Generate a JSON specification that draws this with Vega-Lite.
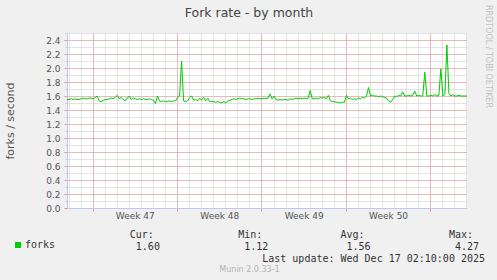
{
  "$schema": "https://vega.github.io/schema/vega-lite/v6.json",
  "width": 400,
  "height": 175,
  "autosize": {"type": "none"},
  "padding": {"left": 67, "top": 33, "right": 30, "bottom": 72},
  "background": "#f0f0f0",
  "title": {"text": "Fork rate - by month", "font": "DejaVu Sans", "fontSize": 12.5, "fontWeight": "normal", "color": "#444444", "anchor": "middle", "frame": "group", "dx": -18, "offset": -25.4, "baseline": "alphabetic"},
  "data": {"values": [
    {"t":"2025-11-14T21:00Z","v":1.55},
    {"t":"2025-11-15T01:00Z","v":1.55},{"t":"2025-11-15T05:00Z","v":1.56},{"t":"2025-11-15T09:00Z","v":1.55},{"t":"2025-11-15T13:00Z","v":1.56},{"t":"2025-11-15T17:00Z","v":1.55},{"t":"2025-11-15T21:00Z","v":1.55},
    {"t":"2025-11-16T01:00Z","v":1.56},{"t":"2025-11-16T05:00Z","v":1.57},{"t":"2025-11-16T09:00Z","v":1.56},{"t":"2025-11-16T13:00Z","v":1.56},{"t":"2025-11-16T17:00Z","v":1.57},{"t":"2025-11-16T21:00Z","v":1.57},
    {"t":"2025-11-17T01:00Z","v":1.56},{"t":"2025-11-17T05:00Z","v":1.58},{"t":"2025-11-17T09:00Z","v":1.60},{"t":"2025-11-17T13:00Z","v":1.53},{"t":"2025-11-17T17:00Z","v":1.52},{"t":"2025-11-17T21:00Z","v":1.54},
    {"t":"2025-11-18T01:00Z","v":1.55},{"t":"2025-11-18T05:00Z","v":1.55},{"t":"2025-11-18T09:00Z","v":1.56},{"t":"2025-11-18T13:00Z","v":1.57},{"t":"2025-11-18T17:00Z","v":1.56},{"t":"2025-11-18T21:00Z","v":1.58},
    {"t":"2025-11-19T01:00Z","v":1.61},{"t":"2025-11-19T05:00Z","v":1.56},{"t":"2025-11-19T09:00Z","v":1.58},{"t":"2025-11-19T13:00Z","v":1.55},{"t":"2025-11-19T17:00Z","v":1.53},{"t":"2025-11-19T21:00Z","v":1.57},
    {"t":"2025-11-20T01:00Z","v":1.60},{"t":"2025-11-20T05:00Z","v":1.55},{"t":"2025-11-20T09:00Z","v":1.57},{"t":"2025-11-20T13:00Z","v":1.56},{"t":"2025-11-20T17:00Z","v":1.55},{"t":"2025-11-20T21:00Z","v":1.56},
    {"t":"2025-11-21T01:00Z","v":1.55},{"t":"2025-11-21T05:00Z","v":1.56},{"t":"2025-11-21T09:00Z","v":1.55},{"t":"2025-11-21T13:00Z","v":1.55},{"t":"2025-11-21T17:00Z","v":1.56},{"t":"2025-11-21T21:00Z","v":1.55},
    {"t":"2025-11-22T01:00Z","v":1.54},{"t":"2025-11-22T05:00Z","v":1.49},{"t":"2025-11-22T09:00Z","v":1.60},{"t":"2025-11-22T13:00Z","v":1.53},{"t":"2025-11-22T17:00Z","v":1.52},{"t":"2025-11-22T21:00Z","v":1.53},
    {"t":"2025-11-23T01:00Z","v":1.52},{"t":"2025-11-23T05:00Z","v":1.52},{"t":"2025-11-23T09:00Z","v":1.53},{"t":"2025-11-23T13:00Z","v":1.52},{"t":"2025-11-23T17:00Z","v":1.53},{"t":"2025-11-23T21:00Z","v":1.53},
    {"t":"2025-11-24T01:00Z","v":1.58},{"t":"2025-11-24T05:00Z","v":1.60},{"t":"2025-11-24T09:00Z","v":2.10},{"t":"2025-11-24T13:00Z","v":1.53},{"t":"2025-11-24T17:00Z","v":1.52},{"t":"2025-11-24T21:00Z","v":1.53},
    {"t":"2025-11-25T01:00Z","v":1.58},{"t":"2025-11-25T05:00Z","v":1.60},{"t":"2025-11-25T09:00Z","v":1.54},{"t":"2025-11-25T13:00Z","v":1.55},{"t":"2025-11-25T17:00Z","v":1.53},{"t":"2025-11-25T21:00Z","v":1.57},
    {"t":"2025-11-26T01:00Z","v":1.54},{"t":"2025-11-26T05:00Z","v":1.58},{"t":"2025-11-26T09:00Z","v":1.53},{"t":"2025-11-26T13:00Z","v":1.57},{"t":"2025-11-26T17:00Z","v":1.52},{"t":"2025-11-26T21:00Z","v":1.52},
    {"t":"2025-11-27T01:00Z","v":1.52},{"t":"2025-11-27T05:00Z","v":1.51},{"t":"2025-11-27T09:00Z","v":1.52},{"t":"2025-11-27T13:00Z","v":1.51},{"t":"2025-11-27T17:00Z","v":1.50},{"t":"2025-11-27T21:00Z","v":1.52},
    {"t":"2025-11-28T01:00Z","v":1.50},{"t":"2025-11-28T05:00Z","v":1.53},{"t":"2025-11-28T09:00Z","v":1.54},{"t":"2025-11-28T13:00Z","v":1.55},{"t":"2025-11-28T17:00Z","v":1.56},{"t":"2025-11-28T21:00Z","v":1.55},
    {"t":"2025-11-29T01:00Z","v":1.56},{"t":"2025-11-29T05:00Z","v":1.57},{"t":"2025-11-29T09:00Z","v":1.56},{"t":"2025-11-29T13:00Z","v":1.56},{"t":"2025-11-29T17:00Z","v":1.55},{"t":"2025-11-29T21:00Z","v":1.56},
    {"t":"2025-11-30T01:00Z","v":1.56},{"t":"2025-11-30T05:00Z","v":1.55},{"t":"2025-11-30T09:00Z","v":1.56},{"t":"2025-11-30T13:00Z","v":1.56},{"t":"2025-11-30T17:00Z","v":1.57},{"t":"2025-11-30T21:00Z","v":1.56},
    {"t":"2025-12-01T01:00Z","v":1.56},{"t":"2025-12-01T05:00Z","v":1.57},{"t":"2025-12-01T09:00Z","v":1.56},{"t":"2025-12-01T13:00Z","v":1.57},{"t":"2025-12-01T17:00Z","v":1.63},{"t":"2025-12-01T21:00Z","v":1.56},
    {"t":"2025-12-02T01:00Z","v":1.60},{"t":"2025-12-02T05:00Z","v":1.55},{"t":"2025-12-02T09:00Z","v":1.54},{"t":"2025-12-02T13:00Z","v":1.55},{"t":"2025-12-02T17:00Z","v":1.54},{"t":"2025-12-02T21:00Z","v":1.55},
    {"t":"2025-12-03T01:00Z","v":1.55},{"t":"2025-12-03T05:00Z","v":1.54},{"t":"2025-12-03T09:00Z","v":1.56},{"t":"2025-12-03T13:00Z","v":1.55},{"t":"2025-12-03T17:00Z","v":1.56},{"t":"2025-12-03T21:00Z","v":1.57},
    {"t":"2025-12-04T01:00Z","v":1.56},{"t":"2025-12-04T05:00Z","v":1.57},{"t":"2025-12-04T09:00Z","v":1.56},{"t":"2025-12-04T13:00Z","v":1.57},{"t":"2025-12-04T17:00Z","v":1.56},{"t":"2025-12-04T21:00Z","v":1.57},
    {"t":"2025-12-05T01:00Z","v":1.68},{"t":"2025-12-05T05:00Z","v":1.56},{"t":"2025-12-05T09:00Z","v":1.56},{"t":"2025-12-05T13:00Z","v":1.57},{"t":"2025-12-05T17:00Z","v":1.56},{"t":"2025-12-05T21:00Z","v":1.58},
    {"t":"2025-12-06T01:00Z","v":1.57},{"t":"2025-12-06T05:00Z","v":1.58},{"t":"2025-12-06T09:00Z","v":1.56},{"t":"2025-12-06T13:00Z","v":1.61},{"t":"2025-12-06T17:00Z","v":1.53},{"t":"2025-12-06T21:00Z","v":1.52},
    {"t":"2025-12-07T01:00Z","v":1.52},{"t":"2025-12-07T05:00Z","v":1.51},{"t":"2025-12-07T09:00Z","v":1.51},{"t":"2025-12-07T13:00Z","v":1.50},{"t":"2025-12-07T17:00Z","v":1.51},{"t":"2025-12-07T21:00Z","v":1.51},
    {"t":"2025-12-08T01:00Z","v":1.61},{"t":"2025-12-08T05:00Z","v":1.56},{"t":"2025-12-08T09:00Z","v":1.57},{"t":"2025-12-08T13:00Z","v":1.55},{"t":"2025-12-08T17:00Z","v":1.56},{"t":"2025-12-08T21:00Z","v":1.55},
    {"t":"2025-12-09T01:00Z","v":1.57},{"t":"2025-12-09T05:00Z","v":1.56},{"t":"2025-12-09T09:00Z","v":1.58},{"t":"2025-12-09T13:00Z","v":1.57},{"t":"2025-12-09T17:00Z","v":1.60},{"t":"2025-12-09T21:00Z","v":1.72},
    {"t":"2025-12-10T01:00Z","v":1.60},{"t":"2025-12-10T05:00Z","v":1.61},{"t":"2025-12-10T09:00Z","v":1.60},{"t":"2025-12-10T13:00Z","v":1.60},{"t":"2025-12-10T17:00Z","v":1.59},{"t":"2025-12-10T21:00Z","v":1.60},
    {"t":"2025-12-11T01:00Z","v":1.59},{"t":"2025-12-11T05:00Z","v":1.58},{"t":"2025-12-11T09:00Z","v":1.57},{"t":"2025-12-11T13:00Z","v":1.53},{"t":"2025-12-11T17:00Z","v":1.51},{"t":"2025-12-11T21:00Z","v":1.55},
    {"t":"2025-12-12T01:00Z","v":1.60},{"t":"2025-12-12T05:00Z","v":1.59},{"t":"2025-12-12T09:00Z","v":1.61},{"t":"2025-12-12T13:00Z","v":1.60},{"t":"2025-12-12T17:00Z","v":1.66},{"t":"2025-12-12T21:00Z","v":1.60},
    {"t":"2025-12-13T01:00Z","v":1.60},{"t":"2025-12-13T05:00Z","v":1.61},{"t":"2025-12-13T09:00Z","v":1.60},{"t":"2025-12-13T13:00Z","v":1.61},{"t":"2025-12-13T17:00Z","v":1.67},{"t":"2025-12-13T21:00Z","v":1.60},
    {"t":"2025-12-14T01:00Z","v":1.61},{"t":"2025-12-14T05:00Z","v":1.60},{"t":"2025-12-14T09:00Z","v":1.60},{"t":"2025-12-14T13:00Z","v":1.94},{"t":"2025-12-14T17:00Z","v":1.60},{"t":"2025-12-14T21:00Z","v":1.60},
    {"t":"2025-12-15T01:00Z","v":1.61},{"t":"2025-12-15T05:00Z","v":1.60},{"t":"2025-12-15T09:00Z","v":1.62},{"t":"2025-12-15T13:00Z","v":1.60},{"t":"2025-12-15T17:00Z","v":1.61},{"t":"2025-12-15T21:00Z","v":1.99},
    {"t":"2025-12-16T01:00Z","v":1.60},{"t":"2025-12-16T05:00Z","v":1.62},{"t":"2025-12-16T09:00Z","v":2.33},{"t":"2025-12-16T13:00Z","v":1.64},{"t":"2025-12-16T17:00Z","v":1.60},{"t":"2025-12-16T21:00Z","v":1.62},
    {"t":"2025-12-17T01:00Z","v":1.60},{"t":"2025-12-17T05:00Z","v":1.60},{"t":"2025-12-17T09:00Z","v":1.61},{"t":"2025-12-17T13:00Z","v":1.60},{"t":"2025-12-17T17:00Z","v":1.60},{"t":"2025-12-17T21:00Z","v":1.60},
    {"t":"2025-12-18T01:00Z","v":1.60}
  ]},
  "resolve": {"axis": {"x": "independent", "y": "independent"}},
  "layer": [
    {
      "mark": {"type": "line", "strokeOpacity": 0},
      "encoding": {
        "x": {"field": "t", "type": "temporal",
          "scale": {"type": "utc", "domain": [{"year": 2025, "month": 11, "date": 14, "hours": 21, "utc": true}, {"year": 2025, "month": 12, "date": 18, "hours": 1, "utc": true}]},
          "axis": {"orient": "bottom", "tickCount": {"interval": "day", "step": 1}, "grid": true, "gridColor": "#c8c8c8", "gridDash": [1, 1], "labels": false, "ticks": false, "domain": false, "title": null, "zindex": 0}},
        "y": {"field": "v", "type": "quantitative",
          "scale": {"domain": [0, 2.5], "nice": false, "zero": true},
          "axis": {"orient": "left", "values": [0,0.1,0.2,0.3,0.4,0.5,0.6,0.7,0.8,0.9,1,1.1,1.2,1.3,1.4,1.5,1.6,1.7,1.8,1.9,2,2.1,2.2,2.3,2.4,2.5], "grid": true, "gridColor": "#c8c8c8", "gridDash": [1, 1], "labels": false, "ticks": true, "tickSize": 2, "tickColor": "#c8c8c8", "domain": false, "title": null, "zindex": 0}}
      }
    },
    {
      "mark": {"type": "line", "strokeOpacity": 0},
      "encoding": {
        "x": {"field": "t", "type": "temporal",
          "scale": {"type": "utc", "domain": [{"year": 2025, "month": 11, "date": 14, "hours": 21, "utc": true}, {"year": 2025, "month": 12, "date": 18, "hours": 1, "utc": true}]},
          "axis": {"orient": "bottom", "values": [{"year": 2025, "month": 11, "date": 17, "utc": true}, {"year": 2025, "month": 11, "date": 24, "utc": true}, {"year": 2025, "month": 12, "date": 1, "utc": true}, {"year": 2025, "month": 12, "date": 8, "utc": true}, {"year": 2025, "month": 12, "date": 15, "utc": true}],
            "grid": true, "gridColor": "#ec9090", "gridDash": [1, 1], "labels": false, "ticks": true, "tickColor": "#ec9090", "tickSize": 3, "domain": false, "zindex": 0,
            "title": "Munin 2.0.33-1", "titleX": 182, "titleY": 61, "titleAlign": "center", "titleBaseline": "middle", "titleAngle": 0, "titleFont": "DejaVu Sans", "titleFontSize": 8, "titleFontWeight": "normal", "titleColor": "#b4b4b4"}},
        "y": {"field": "v", "type": "quantitative",
          "scale": {"domain": [0, 2.5], "nice": false, "zero": true},
          "axis": {"orient": "left", "values": [0,0.2,0.4,0.6,0.8,1,1.2,1.4,1.6,1.8,2,2.2,2.4], "format": ".1f", "grid": true, "gridColor": "#ec9090", "gridDash": [1, 1], "ticks": true, "tickColor": "#ec9090", "tickSize": 3, "labelPadding": 4, "labelFont": "DejaVu Sans", "labelFontSize": 9, "labelColor": "#555555", "domain": true, "domainColor": "#c4c4f0", "zindex": 0,
            "title": "forks / second", "titleX": -57, "titleY": 87.5, "titleAngle": 270, "titleAlign": "center", "titleBaseline": "middle", "titleFont": "DejaVu Sans", "titleFontSize": 11, "titleFontWeight": "normal", "titleColor": "#555555"}}
      }
    },
    {
      "mark": {"type": "line", "color": "#00cc00", "strokeWidth": 1},
      "encoding": {
        "x": {"field": "t", "type": "temporal",
          "scale": {"type": "utc", "domain": [{"year": 2025, "month": 11, "date": 14, "hours": 21, "utc": true}, {"year": 2025, "month": 12, "date": 18, "hours": 1, "utc": true}]},
          "axis": {"orient": "bottom", "values": [{"year": 2025, "month": 11, "date": 20, "hours": 12, "utc": true}, {"year": 2025, "month": 11, "date": 27, "hours": 12, "utc": true}, {"year": 2025, "month": 12, "date": 4, "hours": 12, "utc": true}, {"year": 2025, "month": 12, "date": 11, "hours": 12, "utc": true}],
            "labelExpr": "'Week ' + utcFormat(datum.value, '%V')", "labelFont": "DejaVu Sans", "labelFontSize": 9, "labelColor": "#555555", "labelPadding": 3, "labelFlush": false, "labelOverlap": false,
            "grid": false, "ticks": false, "domain": true, "domainColor": "#c4c4f0",
            "title": ["Cur:\u00a0\u00a0\u00a0\u00a0\u00a0\u00a0\u00a0\u00a0\u00a0\u00a0\u00a0\u00a0\u00a0\u00a0Min:\u00a0\u00a0\u00a0\u00a0\u00a0\u00a0\u00a0\u00a0\u00a0\u00a0\u00a0\u00a0\u00a0Avg:\u00a0\u00a0\u00a0\u00a0\u00a0\u00a0\u00a0\u00a0\u00a0\u00a0\u00a0\u00a0\u00a0\u00a0Max:",
                      "\u200b\u00a01.60\u00a0\u00a0\u00a0\u00a0\u00a0\u00a0\u00a0\u00a0\u00a0\u00a0\u00a0\u00a0\u00a0\u00a01.12\u00a0\u00a0\u00a0\u00a0\u00a0\u00a0\u00a0\u00a0\u00a0\u00a0\u00a0\u00a0\u00a01.56\u00a0\u00a0\u00a0\u00a0\u00a0\u00a0\u00a0\u00a0\u00a0\u00a0\u00a0\u00a0\u00a0\u00a04.27",
                      "\u200b\u00a0\u00a0\u00a0\u00a0\u00a0\u00a0\u00a0\u00a0\u00a0\u00a0\u00a0\u00a0\u00a0\u00a0\u00a0\u00a0\u00a0\u00a0\u00a0\u00a0\u00a0\u00a0Last update: Wed Dec 17 02:10:00 2025"],
            "titleX": 62.3, "titleY": 29, "titleAlign": "left", "titleBaseline": "alphabetic", "titleAngle": 0, "titleLineHeight": 12, "titleFont": "DejaVu Sans Mono", "titleFontSize": 10, "titleFontWeight": "normal", "titleColor": "#333333"}},
        "y": {"field": "v", "type": "quantitative",
          "scale": {"domain": [0, 2.5], "nice": false, "zero": true},
          "axis": {"orient": "right", "labels": false, "ticks": false, "grid": false, "domain": false,
            "title": "RRDTOOL / TOBI OETIKER", "titleX": 20, "titleY": 23, "titleAngle": 90, "titleAlign": "center", "titleBaseline": "middle", "titleFont": "DejaVu Sans", "titleFontSize": 8, "titleFontWeight": "normal", "titleColor": "#c0c0c0"}},
        "color": {"datum": "forks", "type": "nominal",
          "scale": {"range": ["#00cc00"]},
          "legend": {"orient": "none", "legendX": -54, "legendY": 207, "title": null, "padding": 0, "symbolType": "square", "symbolSize": 36, "symbolFillColor": "#00cc00", "symbolStrokeColor": "#00cc00", "symbolStrokeWidth": 0, "labelFont": "DejaVu Sans Mono", "labelFontSize": 10, "labelColor": "#333333", "labelOffset": 2}}
      }
    }
  ],
  "config": {"view": {"fill": "#ffffff", "stroke": null}, "font": "DejaVu Sans"}
}
